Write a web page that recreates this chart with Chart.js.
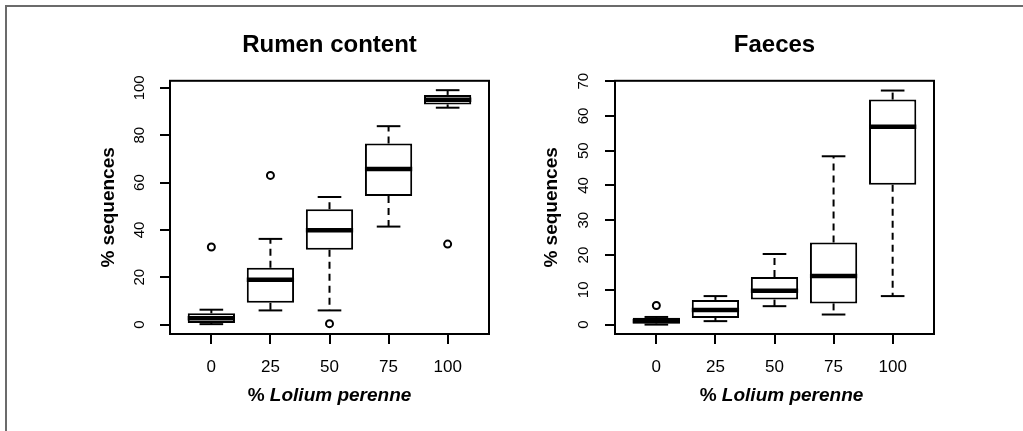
<!DOCTYPE html>
<html>
<head>
<meta charset="utf-8">
<script src="https://cdn.jsdelivr.net/npm/chart.js@4.4.1/dist/chart.umd.min.js"></script>
<style>
  html, body { margin: 0; padding: 0; background: #fff; }
  #wrap { position: relative; width: 1023px; height: 431px; overflow: hidden; }
  #frame { position: absolute; left: 5px; top: 5px; width: 1030px; height: 440px;
           border-top: 2px solid #6b6b6b; border-left: 2px solid #6b6b6b; }
  canvas { position: absolute; top: 0; }
</style>
</head>
<body>
<div id="wrap">
  <div id="frame"></div>
  <canvas id="rumen" width="511" height="431" style="left:0"></canvas>
  <canvas id="faeces" width="512" height="431" style="left:511px"></canvas>
</div>
<script>
// groups on the x axis
var cats = ['0', '25', '50', '75', '100'];

// rumen content, % sequences
var rumenLow  = [0.2, 6.0, 6.0, 41.4, 91.6];
var rumenQ1   = [0.7, 9.2, 31.6, 54.3, 93.0];
var rumenMed  = [2.7, 19.0, 39.8, 65.7, 95.0];
var rumenQ3   = [4.8, 24.0, 48.7, 76.5, 97.0];
var rumenHigh = [6.3, 36.2, 53.9, 83.8, 99.0];
var rumenOut  = [[32.8], [63.0], [0.4], [], [34.0]];
var rumenTicks = [0, 20, 40, 60, 80, 100];

// faeces, % sequences
var faecesLow  = [0.0, 1.0, 5.3, 2.9, 8.2];
var faecesQ1   = [0.3, 1.9, 7.2, 6.1, 40.2];
var faecesMed  = [1.0, 4.2, 9.7, 14.0, 56.9];
var faecesQ3   = [2.0, 7.1, 13.7, 23.6, 64.7];
var faecesHigh = [2.2, 8.2, 20.3, 48.4, 67.3];
var faecesOut  = [[5.5], [], [], [], []];
var faecesTicks = [0, 10, 20, 30, 40, 50, 60, 70];

Chart.defaults.font.family = '"Liberation Sans", Arial, Helvetica, sans-serif';
Chart.defaults.color = '#000';

// whiskers, staples, medians, plot frame and the x title (partly italic)
var boxExtras = {
  id: 'boxExtras',
  afterDatasetsDraw: function (chart, args, opts) {
    var ctx = chart.ctx;
    var y = chart.scales.y;
    var bars = chart.getDatasetMeta(0).data;
    var area = chart.chartArea;
    function line(x1, y1, x2, y2) {
      ctx.beginPath(); ctx.moveTo(x1, y1); ctx.lineTo(x2, y2); ctx.stroke();
    }
    ctx.save();
    ctx.strokeStyle = '#000';
    for (var i = 0; i < bars.length; i++) {
      var b = bars[i].getProps(['x', 'width'], true);
      var cx = b.x, half = b.width / 2, st = half / 2;
      var yHi = y.getPixelForValue(opts.hi[i]);
      var yLo = y.getPixelForValue(opts.lo[i]);
      var yQ3 = y.getPixelForValue(opts.q3[i]);
      var yQ1 = y.getPixelForValue(opts.q1[i]);
      var yMed = y.getPixelForValue(opts.med[i]);
      ctx.lineWidth = 2;
      ctx.setLineDash([7, 5]);
      line(cx, yQ3, cx, yHi);
      line(cx, yQ1, cx, yLo);
      ctx.setLineDash([]);
      line(cx - st, yHi, cx + st, yHi);
      line(cx - st, yLo, cx + st, yLo);
      ctx.lineWidth = 4.5;
      line(cx - half, yMed, cx + half, yMed);
    }
    ctx.lineWidth = 2;
    ctx.strokeRect(area.left, area.top, area.right - area.left, area.bottom - area.top);

    // x axis title: "% " + italic "Lolium perenne"
    var f1 = 'bold 19px "Liberation Sans", Arial, sans-serif';
    var f2 = 'italic bold 19px "Liberation Sans", Arial, sans-serif';
    ctx.font = f1; var w1 = ctx.measureText('% ').width;
    ctx.font = f2; var w2 = ctx.measureText('Lolium perenne').width;
    var mid = (area.left + area.right) / 2 + (opts.titleShift || 0);
    var x0 = mid - (w1 + w2) / 2;
    ctx.fillStyle = '#000';
    ctx.textBaseline = 'middle';
    ctx.textAlign = 'left';
    ctx.font = f1; ctx.fillText('% ', x0, 396);
    ctx.font = f2; ctx.fillText('Lolium perenne', x0 + w1, 396);
    ctx.restore();
  }
};

function makeBox(id, title, lo, q1, med, q3, hi, out, yTicks, yMin, yMax, yWidth, padRight, tickPad, titlePad, titleShift) {
  var boxes = cats.map(function (c, i) { return { x: i + 1, y: [q1[i], q3[i]] }; });
  var points = [];
  out.forEach(function (list, i) {
    list.forEach(function (v) { points.push({ x: i + 1, y: v }); });
  });
  return new Chart(document.getElementById(id).getContext('2d'), {
    type: 'bar',
    data: {
      datasets: [{
        data: boxes,
        backgroundColor: '#fff',
        borderColor: '#000',
        borderWidth: 2,
        borderSkipped: false,
        barPercentage: 1,
        categoryPercentage: 0.8
      }, {
        type: 'scatter',
        data: points,
        pointRadius: 3.5,
        pointBorderWidth: 2,
        pointBackgroundColor: '#fff',
        pointBorderColor: '#000'
      }]
    },
    options: {
      responsive: false,
      animation: false,
      layout: { padding: { left: 0, right: padRight, top: 0, bottom: 0 } },
      plugins: {
        legend: { display: false },
        tooltip: { enabled: false },
        title: {
          display: true,
          fullSize: false,
          text: title,
          font: { size: 24, weight: 'bold' },
          padding: { top: 31, bottom: 21 }
        },
        boxExtras: { lo: lo, q1: q1, med: med, q3: q3, hi: hi, titleShift: titleShift }
      },
      scales: {
        x: {
          type: 'linear',
          min: 0.3,
          max: 5.7,
          offset: false,
          afterBuildTicks: function (s) { s.ticks = cats.map(function (c, i) { return { value: i + 1 }; }); },
          afterFit: function (s) { s.height = 97; },
          ticks: {
            callback: function (v) { return cats[v - 1]; },
            font: { size: 17 },
            padding: 13,
            maxRotation: 0
          },
          grid: { offset: false, drawOnChartArea: false, drawTicks: true, tickLength: 10, color: '#000', lineWidth: 2 },
          border: { display: false }
        },
        y: {
          min: yMin,
          max: yMax,
          afterBuildTicks: function (s) { s.ticks = yTicks.map(function (v) { return { value: v }; }); },
          afterFit: function (s) { s.width = yWidth; },
          ticks: {
            font: { size: 15 },
            minRotation: 90,
            maxRotation: 90,
            crossAlign: 'center',
            padding: tickPad
          },
          grid: { drawOnChartArea: false, drawTicks: true, tickLength: 10, color: '#000', lineWidth: 2 },
          border: { display: false },
          title: {
            display: true,
            text: '% sequences',
            font: { size: 19, weight: 'bold' },
            padding: { top: titlePad, bottom: 0 }
          }
        }
      }
    },
    plugins: [boxExtras]
  });
}

makeBox('rumen', 'Rumen content', rumenLow, rumenQ1, rumenMed, rumenQ3, rumenHigh, rumenOut,
  rumenTicks, -3.96, 102.96, 170, 22, 7.5, 97, 0);

makeBox('faeces', 'Faeces', faecesLow, faecesQ1, faecesMed, faecesQ3, faecesHigh, faecesOut,
  faecesTicks, -2.7, 70.1, 104, 89, 13, 29, 7);
</script>
</body>
</html>
